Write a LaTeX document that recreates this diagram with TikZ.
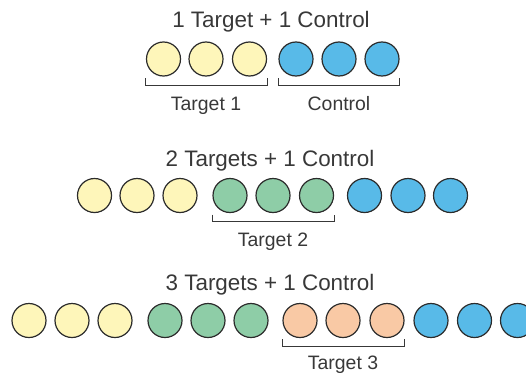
\documentclass[tikz,border=0pt]{standalone}
\usepackage{fontspec}
\setmainfont{Liberation Sans}
\definecolor{inkgray}{HTML}{383838}
\definecolor{edgegray}{HTML}{2B2B2B}
\definecolor{tgtyellow}{HTML}{FEF6BA}
\definecolor{tgtgreen}{HTML}{8ECDA7}
\definecolor{tgtorange}{HTML}{F9C9A5}
\definecolor{ctlblue}{HTML}{58BAE8}
\begin{document}
\begin{tikzpicture}[x=1bp,y=1bp,
  well/.style={circle,draw=edgegray,line width=1.2bp,minimum size=34bp,inner sep=0pt},
  yel/.style={well,fill=tgtyellow},
  grn/.style={well,fill=tgtgreen},
  org/.style={well,fill=tgtorange},
  blu/.style={well,fill=ctlblue},
  title/.style={anchor=base,text=inkgray,font=\fontsize{22.5}{26}\selectfont},
  lbl/.style={anchor=base,text=inkgray,font=\fontsize{19.5}{22}\selectfont},
  brk/.style={draw=inkgray,line width=1bp}]
\useasboundingbox (0,0) rectangle (526,373);

% ---- row 1: one target and one control
\node[title] (t1) at (271,346) {1 Target + 1 Control};
\foreach \x/\n/\s in {163.5/a1/yel,206/a2/yel,249.5/a3/yel,296/a4/blu,339/a5/blu,382/a6/blu}
  \node[\s] (\n) at (\x,314) {};
\draw[brk] ([yshift=-1.5bp]a1.south -| a1.west) -- ++(0,-7)
  -| ([yshift=-1.5bp]a3.south -| a3.east);
\draw[brk] ([yshift=-1.5bp]a4.south -| a4.west) -- ++(0,-7)
  -| ([yshift=-1.5bp]a6.south -| a6.east);
\node[lbl] (l1) at (206,263) {Target 1};
\node[lbl] (l2) at (339,263) {Control};

% ---- row 2: two targets and one control
\node[title] (t2) at (270,207) {2 Targets + 1 Control};
\foreach \x/\n/\s in {94.5/b1/yel,137/b2/yel,180/b3/yel,230/b4/grn,273/b5/grn,316.5/b6/grn,364.5/b7/blu,408/b8/blu,450.5/b9/blu}
  \node[\s] (\n) at (\x,177.5) {};
\draw[brk] ([yshift=-1.5bp]b4.south -| b4.west) -- ++(0,-7)
  -| ([yshift=-1.5bp]b6.south -| b6.east);
\node[lbl] (l3) at (273,126.5) {Target 2};

% ---- row 3: three targets and one control
\node[title] (t3) at (270,83) {3 Targets + 1 Control};
\foreach \x/\n/\s in {29/c1/yel,72/c2/yel,115/c3/yel,165/c4/grn,208/c5/grn,251/c6/grn,300/c7/org,343/c8/org,387/c9/org,431/c10/blu,474.5/c11/blu,517.5/c12/blu}
  \node[\s] (\n) at (\x,52.5) {};
\draw[brk] ([yshift=-1bp]c7.south -| c7.west) -- ++(0,-7)
  -| ([yshift=-1bp]c9.south -| c9.east);
\node[lbl] (l4) at (343,4) {Target 3};
\end{tikzpicture}
\end{document}
